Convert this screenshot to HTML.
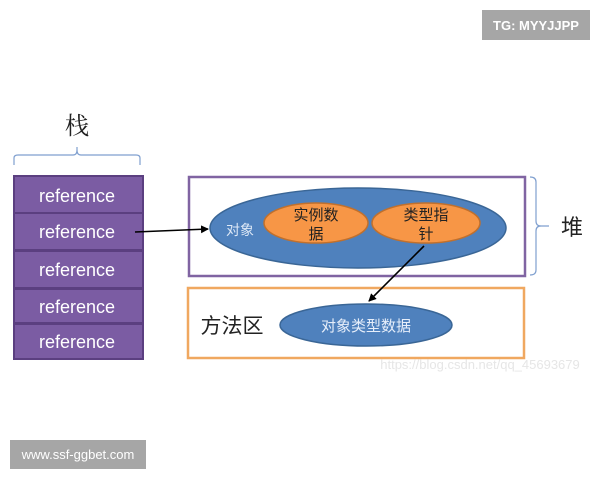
<!DOCTYPE html>
<html><head><meta charset="utf-8"><style>
body{margin:0;width:600px;height:480px;background:#fff;overflow:hidden;position:relative;font-family:"Liberation Sans","Noto Sans CJK SC",sans-serif}
.b{position:absolute}
</style></head><body>
<svg class="b" style="left:0;top:0" width="600" height="480" viewBox="0 0 600 480">
<defs><marker id="ah" markerWidth="8" markerHeight="8" refX="7" refY="4" orient="auto" markerUnits="userSpaceOnUse"><path d="M0,0 L8,4 L0,8 z" fill="#000"/></marker></defs>
<text x="77" y="134" font-size="24" text-anchor="middle" fill="#222" font-family="Noto Serif CJK SC,serif">栈</text>
<path d="M14,165 L14,158 Q14,155 18,155 L73,155 Q77,155 77,150 L77,147 M77,150 Q77,155 81,155 L136,155 Q140,155 140,158 L140,165" fill="none" stroke="#7f9fcf" stroke-width="1.2"/>
<rect x="13" y="175" width="131" height="185" fill="#5b3f80"/>
<g fill="#7b5ca3">
<rect x="15" y="177" width="127" height="35"/>
<rect x="15" y="214" width="127" height="35"/>
<rect x="15" y="252" width="127" height="35"/>
<rect x="15" y="290" width="127" height="32"/>
<rect x="15" y="325" width="127" height="33"/>
</g>
<g fill="#fff" font-size="18" text-anchor="middle">
<text x="77" y="202">reference</text>
<text x="77" y="238">reference</text>
<text x="77" y="276">reference</text>
<text x="77" y="313">reference</text>
<text x="77" y="348">reference</text>
</g>
<rect x="189" y="177" width="336" height="99" fill="none" stroke="#8064a2" stroke-width="2.5"/>
<path d="M530,177 Q536,177 536,182 L536,221 Q536,226 541,226 L549,226 M541,226 Q536,226 536,231 L536,270 Q536,275 530,275" fill="none" stroke="#7f9fcf" stroke-width="1.2"/>
<text x="572" y="235" font-size="22" text-anchor="middle" fill="#222">堆</text>
<ellipse cx="358" cy="228" rx="148" ry="40" fill="#4f81bd" stroke="#3a6696" stroke-width="1.5"/>
<ellipse cx="316" cy="223" rx="52" ry="20" fill="#f79646" stroke="#c0702d" stroke-width="1.5"/>
<ellipse cx="426" cy="223" rx="54" ry="20" fill="#f79646" stroke="#c0702d" stroke-width="1.5"/>
<text x="240" y="235" font-size="14" text-anchor="middle" fill="#dde8f6">对象</text>
<g font-size="15" text-anchor="middle" fill="#222">
<text x="316" y="220">实例数</text><text x="316" y="239">据</text>
<text x="426" y="220">类型指</text><text x="426" y="239">针</text>
</g>
<line x1="135" y1="232" x2="208" y2="229" stroke="#000" stroke-width="1.6" marker-end="url(#ah)"/>
<rect x="188" y="288" width="336" height="70" fill="none" stroke="#f0a860" stroke-width="2.5"/>
<text x="232" y="333" font-size="21" text-anchor="middle" fill="#222">方法区</text>
<ellipse cx="366" cy="325" rx="86" ry="21" fill="#4f81bd" stroke="#3a6696" stroke-width="1.5"/>
<text x="366" y="331" font-size="15" text-anchor="middle" fill="#e6eefa">对象类型数据</text>
<line x1="424" y1="246" x2="369" y2="301" stroke="#000" stroke-width="1.6" marker-end="url(#ah)"/>
<text x="480" y="369" font-size="13" text-anchor="middle" fill="#e6e6e6">https://blog.csdn.net/qq_45693679</text>
<rect x="482" y="10" width="108" height="30" fill="#a6a6a6"/>
<text x="536" y="30" font-size="13" font-weight="bold" text-anchor="middle" fill="#fff">TG: MYYJJPP</text>
<rect x="10" y="440" width="136" height="29" fill="#a6a6a6"/>
<text x="78" y="459" font-size="13" text-anchor="middle" fill="#fff">www.ssf-ggbet.com</text>
</svg>
</body></html>
